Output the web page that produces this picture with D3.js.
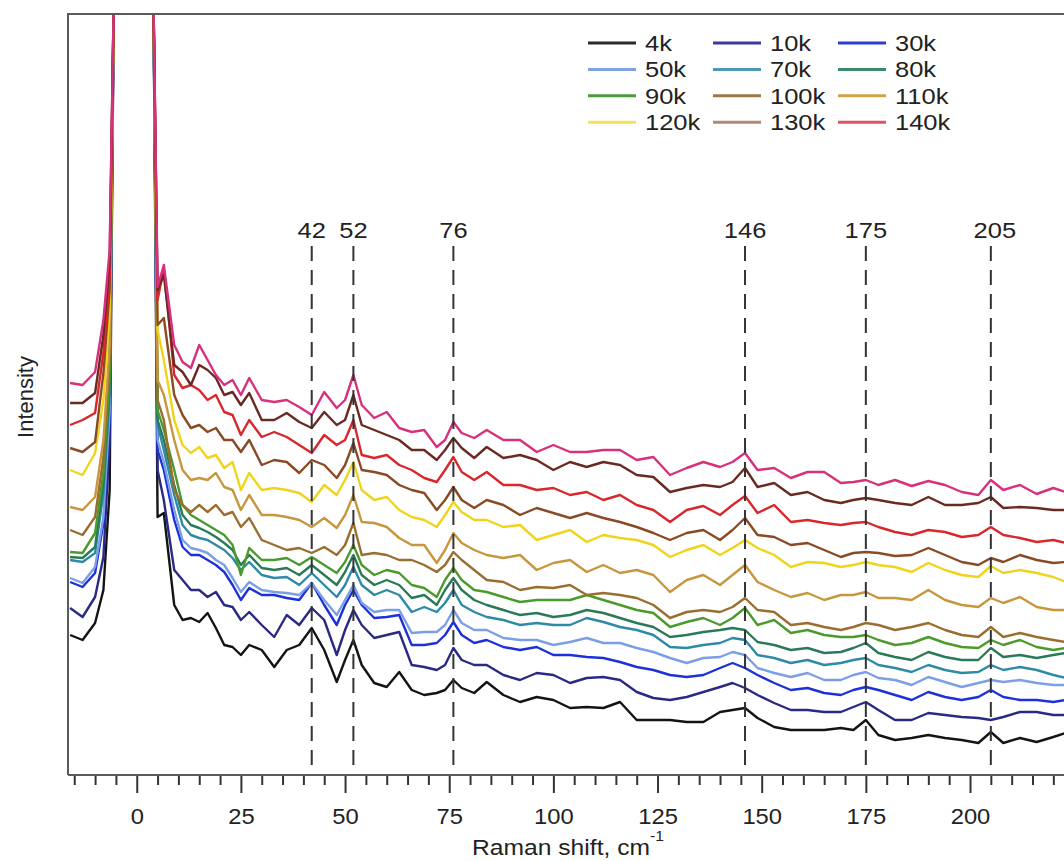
<!DOCTYPE html>
<html lang="en">
<head>
<meta charset="UTF-8">
<title>Raman spectra vs temperature</title>
<script src="https://d3js.org/d3.v7.min.js"></script>
<style>
    body { margin: 0; background: #fff; }
    svg text { font-family: "Liberation Sans", Arial, sans-serif; fill: #222; }
    .curve { fill: none; stroke-width: 2.4px; stroke-linejoin: round; }
    .peak-line { stroke: #333; stroke-width: 2px; stroke-dasharray: 15 9; }
    .frame { stroke: #5a5a5a; stroke-width: 2px; fill: none; }
</style>
</head>
<body>
<svg id="chart"></svg>
<script>
// Raman shift (cm^-1) sample positions shared by every spectrum
const shifts = [-16, -13, -10, -8, -6.5, -5.5, 4, 5, 6.5, 9, 11, 13, 15, 17, 19, 21, 23, 25, 27, 30, 33, 36, 39, 42, 45, 48, 50, 52, 54, 57, 60, 63, 66, 69, 72, 74, 76, 78, 81, 84, 88, 92, 96, 100, 104, 108, 112, 116, 120, 124, 128, 132, 136, 140, 143, 146, 149, 153, 157, 161, 165, 169, 172, 175, 178, 182, 186, 190, 194, 198, 202, 205, 208, 212, 216, 220, 223];

// intensities (arb. units, offset spectra); 780 = laser line, off scale
const i4k = [140, 135, 152, 185, 285, 780, 780, 258, 262, 170, 155, 157, 153, 162, 147, 130, 128, 120, 130, 125, 108, 125, 130, 147, 125, 93, 115, 135, 110, 92, 88, 103, 85, 80, 82, 85, 95, 87, 82, 93, 80, 73, 78, 75, 67, 68, 67, 73, 55, 55, 55, 53, 53, 63, 65, 67, 57, 48, 45, 45, 45, 47, 45, 55, 40, 35, 37, 40, 37, 35, 32, 43, 32, 37, 33, 38, 42];
const i10k = [167, 158, 178, 218, 335, 780, 780, 305, 275, 205, 195, 185, 185, 178, 183, 170, 168, 155, 163, 150, 138, 160, 150, 167, 155, 120, 145, 165, 150, 137, 140, 143, 110, 108, 105, 110, 127, 115, 110, 110, 100, 95, 102, 100, 92, 97, 98, 95, 83, 77, 75, 78, 83, 88, 92, 87, 80, 72, 65, 65, 63, 63, 68, 73, 65, 55, 55, 62, 60, 58, 57, 55, 58, 63, 63, 60, 60];
const i30k = [193, 188, 202, 252, 355, 780, 780, 325, 305, 255, 228, 220, 220, 215, 210, 203, 190, 175, 187, 180, 180, 177, 175, 192, 170, 150, 170, 185, 170, 157, 158, 160, 130, 130, 132, 140, 153, 140, 132, 135, 128, 125, 128, 120, 120, 118, 117, 113, 108, 105, 100, 98, 100, 107, 112, 107, 100, 92, 85, 87, 82, 80, 85, 88, 85, 80, 75, 83, 78, 75, 78, 85, 78, 75, 75, 73, 75];
const i50k = [197, 192, 208, 258, 365, 780, 780, 335, 313, 265, 235, 227, 225, 222, 215, 210, 197, 183, 193, 185, 183, 182, 180, 192, 175, 160, 175, 190, 172, 163, 165, 165, 142, 143, 143, 150, 165, 152, 145, 145, 137, 135, 135, 130, 133, 137, 132, 132, 127, 123, 117, 112, 117, 118, 123, 120, 107, 102, 98, 102, 95, 95, 100, 103, 97, 95, 90, 98, 93, 88, 92, 95, 93, 95, 92, 90, 90];
const i70k = [215, 213, 222, 282, 380, 780, 780, 350, 325, 280, 250, 240, 237, 235, 230, 225, 217, 205, 213, 200, 197, 198, 190, 202, 190, 178, 190, 208, 190, 180, 185, 180, 163, 168, 163, 172, 185, 170, 163, 158, 155, 150, 152, 150, 150, 157, 153, 148, 145, 140, 128, 127, 130, 132, 137, 135, 120, 117, 112, 115, 110, 112, 115, 117, 110, 107, 103, 110, 105, 102, 103, 110, 105, 108, 105, 100, 97];
const i80k = [218, 217, 228, 292, 390, 780, 780, 355, 335, 290, 260, 250, 247, 243, 238, 232, 225, 210, 220, 207, 205, 207, 200, 210, 200, 190, 203, 220, 200, 190, 195, 190, 177, 180, 170, 185, 197, 185, 175, 170, 165, 160, 162, 158, 160, 165, 162, 157, 152, 148, 138, 140, 143, 145, 147, 145, 133, 130, 125, 127, 122, 123, 127, 132, 122, 118, 115, 123, 118, 115, 115, 127, 118, 120, 117, 120, 122];
const i90k = [223, 222, 242, 302, 400, 780, 780, 365, 345, 305, 270, 260, 255, 250, 245, 240, 230, 200, 227, 215, 215, 217, 210, 218, 210, 202, 213, 230, 210, 200, 205, 202, 190, 187, 178, 195, 207, 195, 185, 183, 178, 173, 175, 175, 175, 180, 175, 170, 165, 162, 148, 153, 157, 150, 157, 167, 150, 155, 142, 145, 140, 138, 138, 140, 135, 130, 132, 138, 132, 128, 127, 135, 130, 135, 128, 125, 127];
const i100k = [245, 240, 258, 318, 420, 780, 780, 375, 355, 285, 270, 263, 270, 263, 270, 260, 263, 248, 257, 235, 230, 225, 227, 222, 228, 220, 230, 252, 220, 222, 220, 215, 215, 210, 203, 210, 223, 215, 205, 195, 193, 185, 188, 187, 190, 180, 182, 180, 177, 170, 157, 163, 165, 163, 168, 177, 165, 163, 150, 152, 148, 145, 148, 152, 150, 145, 148, 152, 145, 140, 138, 148, 138, 142, 138, 135, 133];
const i110k = [268, 265, 278, 335, 430, 780, 780, 395, 380, 335, 305, 295, 297, 295, 302, 288, 285, 265, 280, 260, 260, 258, 255, 248, 257, 247, 260, 280, 253, 252, 248, 237, 230, 230, 212, 225, 242, 232, 225, 220, 217, 220, 205, 212, 215, 203, 210, 202, 205, 200, 183, 195, 200, 190, 200, 210, 193, 185, 178, 182, 175, 180, 180, 183, 177, 177, 175, 185, 175, 170, 168, 177, 172, 178, 168, 165, 165];
const i120k = [305, 300, 322, 375, 465, 780, 780, 445, 415, 355, 330, 322, 328, 317, 320, 307, 313, 285, 302, 285, 287, 285, 282, 273, 290, 280, 295, 313, 285, 275, 278, 265, 258, 255, 248, 260, 273, 263, 255, 255, 248, 250, 235, 240, 245, 233, 240, 237, 235, 230, 218, 225, 230, 220, 227, 235, 227, 220, 208, 213, 212, 208, 210, 213, 210, 208, 203, 212, 205, 200, 198, 209, 202, 205, 202, 198, 193];
const i130k = [327, 323, 333, 402, 485, 780, 780, 450, 457, 380, 360, 347, 350, 343, 347, 335, 335, 323, 335, 310, 315, 313, 302, 315, 310, 297, 310, 332, 305, 303, 300, 290, 285, 282, 265, 275, 288, 275, 267, 275, 270, 260, 267, 262, 257, 262, 257, 253, 248, 242, 235, 242, 245, 235, 245, 257, 240, 238, 230, 232, 225, 218, 222, 223, 222, 219, 220, 227, 220, 213, 210, 217, 213, 220, 215, 212, 213];
const i140k = [350, 355, 362, 422, 495, 780, 780, 475, 507, 400, 387, 390, 385, 375, 380, 363, 360, 340, 355, 338, 343, 338, 330, 322, 340, 330, 335, 355, 320, 317, 320, 310, 305, 297, 293, 305, 318, 303, 295, 303, 290, 290, 285, 287, 280, 283, 275, 280, 270, 265, 253, 265, 269, 260, 270, 279, 262, 270, 253, 255, 252, 250, 252, 253, 248, 243, 240, 245, 243, 238, 240, 248, 240, 237, 233, 235, 232];
// two upper spectra that have no legend entry
const iExtraA = [372, 372, 382, 440, 513, 780, 780, 485, 500, 410, 403, 390, 410, 405, 397, 380, 383, 370, 382, 355, 355, 362, 353, 347, 363, 350, 355, 380, 350, 345, 340, 335, 325, 325, 315, 325, 337, 327, 317, 328, 317, 320, 315, 305, 313, 308, 313, 310, 300, 298, 283, 287, 290, 288, 293, 307, 288, 292, 280, 283, 275, 272, 275, 277, 275, 272, 270, 278, 270, 270, 272, 278, 267, 268, 267, 265, 265];
const iExtraB = [392, 390, 403, 455, 525, 780, 780, 488, 510, 430, 413, 407, 430, 415, 400, 390, 395, 380, 397, 375, 373, 375, 368, 360, 383, 367, 375, 400, 370, 357, 363, 347, 343, 345, 328, 335, 353, 342, 337, 345, 335, 335, 323, 330, 323, 323, 325, 325, 315, 318, 300, 307, 313, 308, 313, 322, 305, 307, 297, 303, 303, 292, 293, 295, 290, 295, 289, 294, 290, 283, 280, 295, 285, 290, 281, 287, 283];

const curveColors = ['#141414', '#2a2a85', '#1c32d8', '#7b9fe6', '#2e8aa6', '#2a7a58', '#4a9a2c', '#9a6e2e', '#c8963c', '#f0d41c', '#8a4a24', '#d8282c', '#6a2a22', '#d8307c'];

const legendLabels = ['4k', '10k', '30k', '50k', '70k', '80k', '90k', '100k', '110k', '120k', '130k', '140k'];
const legendColors = ['#2b2b2b', '#3b3b9b', '#2a3ed2', '#7ea2e2', '#4a9ab2', '#3a8a6a', '#4e9a3a', '#9a7a42', '#d2a244', '#f6e258', '#b08a72', '#e05262'];

const peakShifts = [42, 52, 76, 146, 175, 205];
const majorTicks = [0, 25, 50, 75, 100, 125, 150, 175, 200];
const minorTicks = d3.range(-15, 224, 5).filter(v => v % 25 !== 0);

// bottom spectrum first so the top ones are painted over it
const spectra = [i4k, i10k, i30k, i50k, i70k, i80k, i90k, i100k, i110k, i120k, i130k, i140k, iExtraA, iExtraB];

const W = 1064, H = 861;
const margin = { top: 14, left: 68, bottom: 86 };
const plotRight = 1070; // right border falls just outside the picture
const plotBottom = H - margin.bottom;
const stretch = 'scale(1.16,1)'; // the original lettering is a bit wide

const svg = d3.select('#chart').attr('width', W).attr('height', H);

const x = d3.scaleLinear().domain([-16.5, 224]).range([margin.left, plotRight]);
const y = d3.scaleLinear().domain([0, 761]).range([plotBottom, margin.top]);

svg.append('clipPath').attr('id', 'plot-clip')
    .append('rect')
    .attr('x', margin.left).attr('y', margin.top)
    .attr('width', plotRight - margin.left).attr('height', plotBottom - margin.top);

// spectra
const line = d3.line()
    .x(d => x(d[0]))
    .y(d => y(d[1]));

svg.append('g')
    .attr('clip-path', 'url(#plot-clip)')
    .selectAll('path')
    .data(spectra)
    .enter().append('path')
    .attr('class', 'curve')
    .attr('stroke', (d, i) => curveColors[i])
    .attr('d', d => line(d3.zip(shifts, d)));

// dashed markers for the phonon modes
const peaks = svg.append('g');
peaks.selectAll('line')
    .data(peakShifts)
    .enter().append('line')
    .attr('class', 'peak-line')
    .attr('x1', d => x(d)).attr('x2', d => x(d))
    .attr('y1', 246).attr('y2', plotBottom);
peaks.selectAll('text')
    .data(peakShifts)
    .enter().append('text')
    .attr('transform', d => `translate(${x(d) + (d > 200 ? 4 : 0)},238) ${stretch}`)
    .attr('text-anchor', 'middle')
    .style('font-size', '22px')
    .text(d => d);

// frame: left and top border
svg.append('path')
    .attr('class', 'frame')
    .attr('d', `M${margin.left},${plotBottom}V${margin.top}H${plotRight}`);

// x axis with major and minor ticks
const xAxis = svg.append('g')
    .attr('transform', `translate(0,${plotBottom})`)
    .call(d3.axisBottom(x).tickValues(majorTicks).tickSize(18).tickPadding(15).tickFormat(d3.format('d')));
xAxis.select('.domain').remove();
xAxis.selectAll('.tick line').attr('stroke', '#333').attr('stroke-width', 2);
xAxis.selectAll('.tick text')
    .style('font-size', '22px')
    .attr('fill', '#222')
    .attr('transform', 'scale(1.08,1)');

const minorAxis = svg.append('g')
    .attr('transform', `translate(0,${plotBottom})`)
    .call(d3.axisBottom(x).tickValues(minorTicks).tickSize(10).tickFormat(''));
minorAxis.select('.domain').remove();
minorAxis.selectAll('.tick line').attr('stroke', '#333').attr('stroke-width', 2);

svg.append('path')
    .attr('class', 'frame')
    .attr('stroke', '#444')
    .attr('d', `M${margin.left},${plotBottom}H${plotRight}`);

// axis titles
const xTitle = svg.append('text')
    .attr('transform', 'translate(568,855) scale(1.12,1)')
    .attr('text-anchor', 'middle')
    .style('font-size', '22px');
xTitle.append('tspan').text('Raman shift, cm');
xTitle.append('tspan').attr('dy', -14).style('font-size', '14px').text('-1');

svg.append('text')
    .attr('transform', 'translate(33,397) rotate(-90)')
    .attr('text-anchor', 'middle')
    .style('font-size', '22px')
    .text('Intensity');

// legend, three columns
const legend = svg.append('g');
const items = legend.selectAll('g')
    .data(legendLabels)
    .enter().append('g')
    .attr('transform', (d, i) => `translate(${588 + (i % 3) * 125},${43 + Math.floor(i / 3) * 26.4})`);
items.append('line')
    .attr('x1', 0).attr('x2', 48)
    .attr('stroke', (d, i) => legendColors[i])
    .attr('stroke-width', 3);
items.append('text')
    .attr('transform', `translate(57,8) ${stretch}`)
    .style('font-size', '22px')
    .text(d => d);
</script>
</body>
</html>
